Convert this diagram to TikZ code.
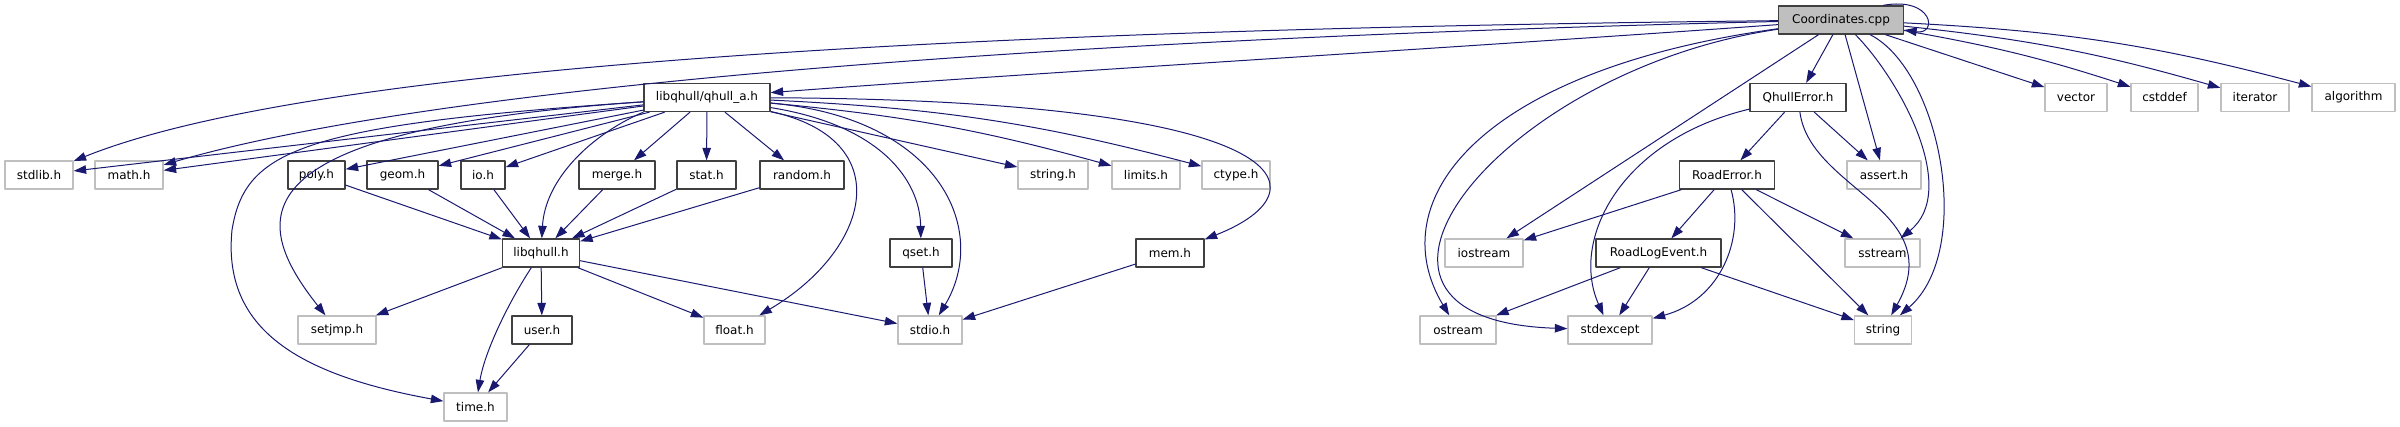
\documentclass[tikz,border=0pt]{standalone}
\usepackage{fontspec}
\setmainfont{DejaVu Sans}
\usetikzlibrary{arrows.meta}
\definecolor{edgeblue}{HTML}{191970}
\definecolor{boxgrey}{HTML}{BFBFBF}
\definecolor{boxdark}{HTML}{404040}

\begin{document}
\begin{tikzpicture}[x=1pt, y=-1pt, line join=round,
  box/.style={rectangle, minimum height=28pt, inner xsep=2pt, inner ysep=0pt,
    line width=1.3pt, font=\fontsize{12}{14}\selectfont},
  hdr/.style={box, draw=boxdark},
  sys/.style={box, draw=boxgrey},
  src/.style={box, draw=boxdark, fill=boxgrey},
  dep/.style={draw=edgeblue, line width=1pt, -{Triangle[length=12.5pt,width=8.5pt]}}]

  \useasboundingbox (0,0) rectangle (2400,427);

  % source file
  \node[src, minimum width=125] (cpp) at (1841,20) {Coordinates.cpp};

  % second row
  \node[hdr, minimum width=126] (qa)        at (707,97.5)    {libqhull/qhull\_a.h};
  \node[hdr, minimum width=96]  (qerr)      at (1798,97.5)   {QhullError.h};
  \node[sys, minimum width=62]  (vector)    at (2076,97.5)   {vector};
  \node[sys, minimum width=67]  (cstddef)   at (2164.5,97.5) {cstddef};
  \node[sys, minimum width=68]  (iterator)  at (2255,97.5)   {iterator};
  \node[sys, minimum width=83]  (algorithm) at (2353.5,97.5) {algorithm};

  % third row
  \node[sys, minimum width=68] (stdlib)  at (39,175)    {stdlib.h};
  \node[sys, minimum width=68] (math)    at (129,175)   {math.h};
  \node[hdr, minimum width=57] (poly)    at (316.5,175) {poly.h};
  \node[hdr, minimum width=71] (geom)    at (402.5,175) {geom.h};
  \node[hdr, minimum width=44] (io)      at (483,175)   {io.h};
  \node[hdr, minimum width=76] (merge)   at (617,175)   {merge.h};
  \node[hdr, minimum width=59] (stat)    at (706.5,175) {stat.h};
  \node[hdr, minimum width=84] (random)  at (802,175)   {random.h};
  \node[sys, minimum width=70] (stringh) at (1053,175)  {string.h};
  \node[sys, minimum width=68] (limits)  at (1146,175)  {limits.h};
  \node[sys, minimum width=68] (ctype)   at (1236,175)  {ctype.h};
  \node[hdr, minimum width=95] (rerr)    at (1727,175)  {RoadError.h};
  \node[sys, minimum width=74] (assert)  at (1884,175)  {assert.h};

  % fourth row
  \node[hdr, minimum width=77]  (lq)       at (541,253)    {libqhull.h};
  \node[hdr, minimum width=62]  (qset)     at (921,253)    {qset.h};
  \node[hdr, minimum width=68]  (mem)      at (1170,253)   {mem.h};
  \node[sys, minimum width=78]  (iostream) at (1484,253)   {iostream};
  \node[hdr, minimum width=125] (rlog)     at (1658.5,253) {RoadLogEvent.h};
  \node[sys, minimum width=75]  (sstream)  at (1882.5,253) {sstream};

  % fifth and sixth row
  \node[sys, minimum width=78] (setjmp)    at (337,330)   {setjmp.h};
  \node[hdr, minimum width=60] (user)      at (542,330)   {user.h};
  \node[sys, minimum width=61] (float)     at (734.5,330) {float.h};
  \node[sys, minimum width=64] (stdio)     at (930,330)   {stdio.h};
  \node[sys, minimum width=76] (ostream)   at (1458,330)  {ostream};
  \node[sys, minimum width=84] (stdexcept) at (1610,330)  {stdexcept};
  \node[sys, minimum width=57] (string)    at (1883,330)  {string};
  \node[sys, minimum width=63] (time)      at (475.5,407) {time.h};

  % includes of Coordinates.cpp
  \draw[dep] ([xshift=-21pt]cpp.north east) .. controls +(50,-9) and +(34,5) .. ([yshift=-10pt]cpp.east);
  \draw[dep] (cpp) .. controls (900,30) and (300,70) .. (stdlib);
  \draw[dep] (cpp) .. controls (1000,40) and (420,90) .. (math);
  \draw[dep] (cpp) .. controls (1500,45) and (1000,75) .. (qa);
  \draw[dep] (cpp) .. controls (1480,70) and (1380,200) .. (ostream);
  \draw[dep] (cpp) .. controls (1500,70) and (1300,320) .. (stdexcept);
  \draw[dep] (cpp) -- (iostream);
  \draw[dep] (cpp) -- (qerr);
  \draw[dep] (cpp) -- (assert);
  \draw[dep] (cpp) .. controls (1900,80) and (1960,190) .. (sstream);
  \draw[dep] (cpp) .. controls (1940,70) and (1975,250) .. (string);
  \draw[dep] (cpp) -- (vector);
  \draw[dep] (cpp) to[bend left=4] (cstddef);
  \draw[dep] (cpp) to[bend left=5] (iterator);
  \draw[dep] (cpp) to[bend left=6] (algorithm);

  % QhullError.h, RoadError.h, RoadLogEvent.h
  \draw[dep] (qerr) -- (rerr);
  \draw[dep] (qerr) -- (assert);
  \draw[dep] (qerr) .. controls (1810,190) and (1950,210) .. (string);
  \draw[dep] (qerr) .. controls (1620,140) and (1570,240) .. (stdexcept);
  \draw[dep] (rerr) -- (iostream);
  \draw[dep] (rerr) -- (rlog);
  \draw[dep] (rerr) .. controls (1745,240) and (1720,300) .. (stdexcept);
  \draw[dep] (rerr) -- (sstream);
  \draw[dep] (rerr) -- (string);
  \draw[dep] (rlog) -- (ostream);
  \draw[dep] (rlog) -- (stdexcept);
  \draw[dep] (rlog) -- (string);

  % includes of libqhull/qhull_a.h
  \draw[dep] (qa) -- (stdlib);
  \draw[dep] (qa) -- (math);
  \draw[dep] (qa) -- (poly);
  \draw[dep] (qa) -- (geom);
  \draw[dep] (qa) -- (io);
  \draw[dep] (qa.south west) .. controls (590,135) and (545,180) .. (lq);
  \draw[dep] (qa) -- (merge);
  \draw[dep] (qa) -- (stat);
  \draw[dep] (qa) -- (random);
  \draw[dep] (qa) .. controls (230,130) and (250,220) .. (setjmp);
  \draw[dep] (qa) .. controls (300,125) and (245,150) .. (232,230)
                  .. controls (222,330) and (300,375) .. (time);
  \draw[dep] (qa) .. controls (900,140) and (870,250) .. (float);
  \draw[dep] (qa) .. controls (880,125) and (920,180) .. (qset);
  \draw[dep] (qa) .. controls (940,118) and (990,230) .. (stdio);
  \draw[dep] (qa) -- (stringh);
  \draw[dep] (qa) to[bend left=5] (limits);
  \draw[dep] (qa) to[bend left=6] (ctype);
  \draw[dep] (qa) .. controls (1300,100) and (1330,190) .. (mem);

  % libqhull headers
  \draw[dep] (poly) -- (lq);
  \draw[dep] (geom) -- (lq);
  \draw[dep] (io) -- (lq);
  \draw[dep] (merge) -- (lq);
  \draw[dep] (stat) -- (lq);
  \draw[dep] (random) -- (lq);
  \draw[dep] (lq) -- (setjmp);
  \draw[dep] (lq) .. controls (510,300) and (485,350) .. (time);
  \draw[dep] (lq) -- (user);
  \draw[dep] (lq) -- (float);
  \draw[dep] (lq) -- (stdio);
  \draw[dep] (user) -- (time);
  \draw[dep] (qset) -- (stdio);
  \draw[dep] (mem) -- (stdio);
\end{tikzpicture}
\end{document}
